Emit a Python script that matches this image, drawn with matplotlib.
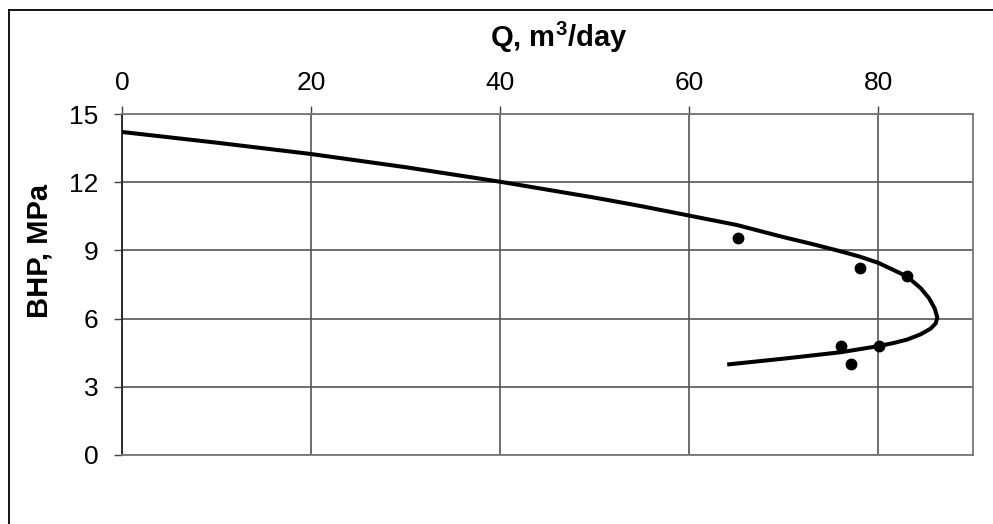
import matplotlib
matplotlib.use('Agg')
import matplotlib.pyplot as plt
from matplotlib.lines import Line2D

plt.rcParams['font.family'] = ['Liberation Sans', 'DejaVu Sans']
plt.rcParams['mathtext.fontset'] = 'custom'
plt.rcParams['mathtext.rm'] = 'Liberation Sans:bold'
plt.rcParams['mathtext.bf'] = 'Liberation Sans:bold'

# IPR curve (Q in m3/day, BHP in MPa)
curve_q = [0, 10, 20, 30, 40, 50, 55, 60, 65, 70, 73, 76, 78, 80, 83, 84.46, 85.34,
           85.94, 86.22, 86.05, 85.52, 84.46, 83.05, 81.64, 80, 76, 70, 64]
curve_p = [14.21, 13.74, 13.24, 12.66, 12.02, 11.32, 10.94, 10.53, 10.12, 9.58, 9.28,
           8.96, 8.73, 8.45, 7.86, 7.34, 6.90, 6.45, 6.05, 5.79, 5.56, 5.31, 5.08,
           4.93, 4.79, 4.52, 4.24, 3.98]

# measured points
meas_q = [65.1, 78.0, 83.05, 76.0, 80.1, 77.1]
meas_p = [9.56, 8.23, 7.86, 4.79, 4.79, 4.0]

x_ticks = [0, 20, 40, 60, 80]
y_ticks = [0, 3, 6, 9, 12, 15]

fig = plt.figure(figsize=(9.93, 5.24), dpi=100)
ax = fig.add_axes([0.1229, 0.1317, 0.857, 0.6507])

ax.plot(curve_q, curve_p, color='k', lw=2.9, solid_joinstyle='round',
        solid_capstyle='butt', zorder=3)
ax.plot(meas_q, meas_p, 'o', color='k', ms=7.5, zorder=4)

ax.set_xlim(0, 90)
ax.set_ylim(0, 15)
ax.set_xticks(x_ticks)
ax.set_yticks(y_ticks)
ax.xaxis.tick_top()
ax.tick_params(axis='x', direction='out', length=6, width=1, color='#444444',
               labelsize=19, pad=8)
ax.tick_params(axis='y', direction='out', length=6, width=1, color='#444444',
               labelsize=19, pad=11)
ax.grid(True, color='#555555', lw=1.2, zorder=0)

for s in ['top', 'right', 'bottom']:
    ax.spines[s].set_color('#777777')
    ax.spines[s].set_linewidth(1.3)
ax.spines['left'].set_color('#222222')
ax.spines['left'].set_linewidth(1.3)

fig.text(559 / 993, 1 - 47 / 524, r'Q, m$^{\mathbf{3}}$/day', ha='center', va='baseline',
         fontsize=21, fontweight='bold')
fig.text(40 / 993, 1 - 251 / 524, 'BHP, MPa', ha='center', va='center',
         rotation=90, fontsize=21, fontweight='bold')

# outer frame (left and top edges visible)
fig.add_artist(Line2D([8.5 / 993, 8.5 / 993], [0, 1 - 9.5 / 524], color='k', lw=1.3))
fig.add_artist(Line2D([8.5 / 993, 1], [1 - 9.5 / 524, 1 - 9.5 / 524], color='k', lw=1.3))

fig.savefig('out.png', dpi=100)
